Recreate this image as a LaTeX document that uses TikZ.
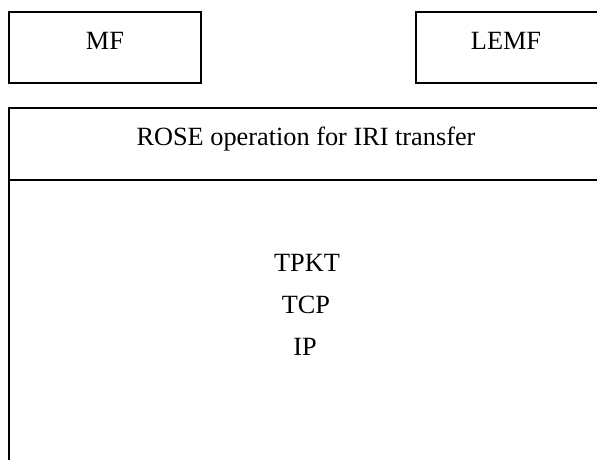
\documentclass[tikz,border=0pt]{standalone}
\usepackage{fontspec}
\setmainfont{Liberation Serif}
\begin{document}
\begin{tikzpicture}[x=1pt,y=-1pt,
  frame/.style={draw=black,line width=1.5pt},
  lbl/.style={font=\fontsize{26.3}{31}\selectfont,anchor=base,inner sep=0pt}]
\useasboundingbox (0,0) rectangle (597,459);
\clip (0,0) rectangle (597,459);
% entity boxes
\draw[frame] (9,12) rectangle (201,83);
\draw[frame] (416,12) rectangle (610,83);
\node[lbl] (mf) at (105,49) {MF};
\node[lbl] (lemf) at (506,49) {LEMF};
% protocol stack frame
\draw[frame] (610,108) -- (9,108) -- (9,470);
\draw[frame] (9,180) -- (610,180);
\node[lbl] (rose) at (306,145) {ROSE operation for IRI transfer};
\node[lbl] (tpkt) at (307,271) {TPKT};
\node[lbl] (tcp) at (306,313) {TCP};
\node[lbl] (ip) at (305,355) {IP};
\end{tikzpicture}
\end{document}
